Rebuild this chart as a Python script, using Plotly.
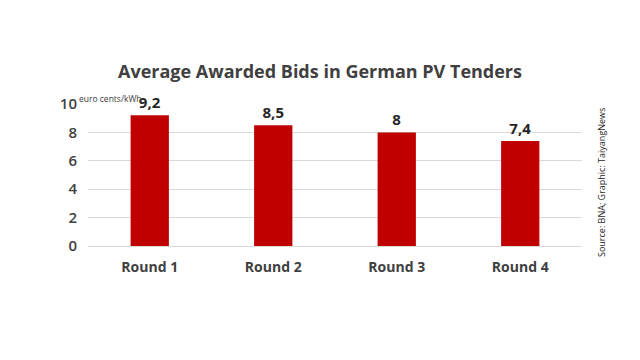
import plotly.graph_objects as go

categories = ["Round 1", "Round 2", "Round 3", "Round 4"]
values = [9.2, 8.5, 8.0, 7.4]
value_labels = ["9,2", "8,5", "8", "7,4"]
y_ticks = [0, 2, 4, 6, 8, 10]

fig = go.Figure()
fig.add_trace(go.Bar(
    x=categories, y=values, width=0.31,
    marker=dict(color="#C00000", line=dict(width=0)),
    text=value_labels, textposition="outside", cliponaxis=False,
    textfont=dict(family="Open Sans", size=15, color="#262626", weight="bold"),
))

fig.update_layout(
    width=640, height=360,
    margin=dict(l=88, r=58, t=104, b=114, autoexpand=False),
    paper_bgcolor="white", plot_bgcolor="white",
    showlegend=False,
    title=dict(text="Average Awarded Bids in German PV Tenders",
               x=0.5, xanchor="center", y=0.8, yanchor="middle",
               font=dict(family="Open Sans", size=18, color="#404040", weight="bold")),
    xaxis=dict(showgrid=False, showline=True, linecolor="#d9d9d9", linewidth=1,
               automargin=False,
               tickfont=dict(family="Open Sans", size=14, color="#404040", weight="bold"),
               ticks="", ticklabelstandoff=8),
    yaxis=dict(range=[0, 10], tickvals=y_ticks, showgrid=True, gridcolor="#d9d9d9",
               automargin=False,
               gridwidth=1, zeroline=False, showline=False,
               tickfont=dict(family="Open Sans", size=15, color="#404040", weight=600),
               ticks="", ticklabelstandoff=10),
    annotations=[
        dict(text="euro cents/kWh", xref="paper", yref="paper", x=0.0, y=1.0,
             xanchor="left", yanchor="middle", yshift=6, xshift=-11, showarrow=False,
             font=dict(family="Open Sans", size=8.5, color="#404040")),
        dict(text="Source: BNA; Graphic: TaiyangNews", xref="paper", yref="paper",
             x=1.0, y=0.5, xshift=19, yshift=-8, textangle=-90, showarrow=False,
             xanchor="center", yanchor="middle",
             font=dict(family="Open Sans", size=9, color="#262626")),
    ],
)

fig.write_html("out.html", config={"displayModeBar": False},
               post_script="document.body.style.margin='0';")
